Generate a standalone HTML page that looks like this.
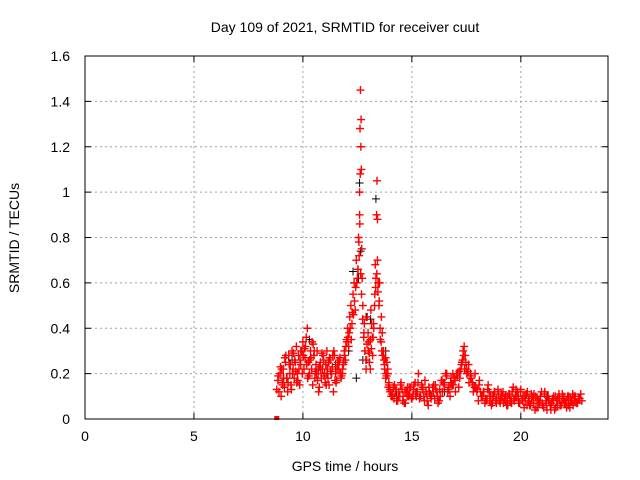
<!DOCTYPE html>
<html><head><meta charset="utf-8"><style>
body{margin:0;background:#fff}
svg{display:block;font-family:"Liberation Sans",sans-serif}
</style></head><body>
<svg width="640" height="480" xmlns="http://www.w3.org/2000/svg">
<rect width="640" height="480" fill="#fff"/>
<text x="345" y="32" font-size="14" text-anchor="middle">Day 109 of 2021, SRMTID for receiver cuut</text>
<text x="345" y="471" font-size="14" text-anchor="middle">GPS time / hours</text>
<text transform="translate(19,238) rotate(-90)" font-size="14" text-anchor="middle">SRMTID / TECUs</text>
<g id="grid"></g>
<g id="axes"></g>
<g id="black"></g>
<g id="red"></g>
<rect x="85" y="56" width="523" height="363" fill="none" stroke="#000" stroke-width="1"/>
</svg>
<script>
const xTicks=[0,5,10,15,20];
const yTicks=[0,0.2,0.4,0.6,0.8,1,1.2,1.4,1.6];
const yTickLabels=["0","0.2","0.4","0.6","0.8","1","1.2","1.4","1.6"];
const redT=[8.8,8.85,8.9,8.95,9.0,9.05,9.1,9.15,9.2,9.25,9.3,9.35,9.4,9.45,9.5,9.55,9.6,9.65,9.7,9.75,9.8,9.85,9.9,9.95,10.0,10.05,10.1,10.15,10.2,10.25,10.3,10.35,10.4,10.45,10.5,10.55,10.6,10.65,10.7,10.75,10.8,10.85,10.9,10.95,11.0,11.05,11.1,11.15,11.2,11.25,11.3,11.35,11.4,11.45,11.5,11.55,11.6,11.65,11.7,11.75,11.8,11.85,11.9,11.95,12.0,12.05,12.1,12.15,12.2,12.25,12.3,12.35,12.4,12.45,12.5,12.55,12.6,12.62,12.64,12.66,12.68,12.7,12.75,12.8,12.85,12.9,12.95,13.0,13.05,13.1,13.15,13.2,13.25,13.3,13.35,13.38,13.4,13.42,13.45,13.5,13.55,13.6,13.65,13.7,13.75,13.8,13.85,13.9,13.95,14.0,14.1,14.2,14.3,14.4,14.5,14.6,14.7,14.8,14.9,15.0,15.1,15.2,15.3,15.4,15.5,15.6,15.7,15.8,15.9,16.0,16.1,16.2,16.3,16.4,16.5,16.6,16.7,16.8,16.9,17.0,17.1,17.2,17.3,17.35,17.4,17.45,17.5,17.6,17.7,17.8,17.9,18.0,18.1,18.2,18.3,18.4,18.5,18.6,18.7,18.8,18.9,19.0,19.1,19.2,19.3,19.4,19.5,19.6,19.7,19.8,19.9,20.0,20.1,20.2,20.3,20.4,20.5,20.6,20.7,20.8,20.9,21.0,21.1,21.2,21.3,21.4,21.5,21.6,21.7,21.8,21.9,22.0,22.1,22.2,22.3,22.4,22.5,22.6,22.7,22.8,
9.02,9.12,9.22,9.32,9.42,9.52,9.62,9.72,9.82,9.92,10.02,10.12,10.22,10.32,10.42,10.52,10.62,10.72,10.82,10.92,11.02,11.12,11.22,11.32,11.42,11.52,11.62,11.72,11.82,11.92,12.02,12.12,12.22,12.32,12.42,12.52,12.58,12.6,12.63,12.67,12.72,12.82,12.92,13.02,13.12,13.22,13.32,13.42,13.52,13.62,13.72,13.82,13.92,14.05,14.15,14.25,14.35,14.45,14.55,14.65,14.75,14.85,14.95,15.05,15.15,15.25,15.35,15.45,15.55,15.65,15.75,15.85,15.95,16.05,16.15,16.25,16.35,16.45,16.55,16.65,16.75,16.85,16.95,17.05,17.15,17.25,17.32,17.42,17.52,17.62,17.72,17.82,17.92,18.05,18.15,18.25,18.35,18.45,18.55,18.65,18.75,18.85,18.95,19.05,19.15,19.25,19.35,19.45,19.55,19.65,19.75,19.85,19.95,20.05,20.15,20.25,20.35,20.45,20.55,20.65,20.75,20.85,20.95,21.05,21.15,21.25,21.35,21.45,21.55,21.65,21.75,21.85,21.95,22.05,22.15,22.25,22.35,22.45,22.55,22.65,22.75,
8.87,8.97,9.07,9.17,9.27,9.37,9.47,9.57,9.67,9.77,9.87,9.97,10.07,10.17,10.27,10.37,10.47,10.57,10.67,10.77,10.87,10.97,11.07,11.17,11.27,11.37,11.47,11.57,11.67,11.77,11.87,11.97,12.07,12.17,12.27,12.37,12.47,12.53,12.57,12.61,12.65,12.69,12.74,12.79,12.84,12.89,12.94,12.99,13.04,13.09,13.14,13.19,13.24,13.29,13.34,13.39,13.44,13.49,13.54,13.59,13.64,13.69,13.74,13.79,13.84,13.89,13.94,13.99,14.08,14.18,14.28,14.38,14.48,14.58,14.68,14.78,14.88,14.98,15.08,15.18,15.28,15.38,15.48,15.58,15.68,15.78,15.88,15.98,16.08,16.18,16.28,16.38,16.48,16.58,16.68,16.78,16.88,16.98,17.08,17.18,17.28,17.38,17.48,17.58,17.68,17.78,17.88,17.98,18.08,18.18,18.28,18.38,18.48,18.58,18.68,18.78,18.88,18.98,19.08,19.18,19.28,19.38,19.48,19.58,19.68,19.78,19.88,19.98,20.08,20.18,20.28,20.38,20.48,20.58,20.68,20.78,20.88,20.98,21.08,21.18,21.28,21.38,21.48,21.58,21.68,21.78,21.88,21.98,22.08,22.18,22.28,22.38,22.48,22.58,22.68,22.78];
const redV=[0.13,0.17,0.12,0.2,0.1,0.16,0.22,0.14,0.25,0.18,0.12,0.28,0.2,0.15,0.3,0.22,0.18,0.25,0.32,0.2,0.28,0.15,0.24,0.3,0.34,0.22,0.27,0.36,0.4,0.25,0.2,0.3,0.22,0.15,0.28,0.18,0.24,0.3,0.2,0.14,0.25,0.18,0.22,0.26,0.2,0.24,0.3,0.18,0.15,0.26,0.2,0.23,0.12,0.28,0.2,0.17,0.25,0.22,0.27,0.18,0.2,0.24,0.3,0.26,0.35,0.4,0.32,0.45,0.5,0.42,0.55,0.6,0.48,0.7,0.62,0.8,0.9,1.28,1.45,1.2,1.1,0.75,0.5,0.38,0.3,0.22,0.45,0.3,0.25,0.35,0.42,0.28,0.4,0.55,0.62,0.9,1.05,0.7,0.6,0.52,0.35,0.45,0.28,0.3,0.22,0.18,0.25,0.2,0.15,0.12,0.1,0.15,0.08,0.12,0.16,0.1,0.07,0.14,0.11,0.09,0.15,0.12,0.2,0.1,0.14,0.17,0.08,0.12,0.1,0.15,0.13,0.07,0.1,0.12,0.16,0.2,0.14,0.18,0.15,0.12,0.2,0.18,0.25,0.3,0.32,0.28,0.22,0.24,0.18,0.15,0.2,0.13,0.17,0.1,0.12,0.08,0.15,0.1,0.07,0.12,0.09,0.08,0.11,0.07,0.1,0.06,0.09,0.12,0.08,0.1,0.07,0.13,0.1,0.08,0.12,0.06,0.09,0.11,0.05,0.08,0.1,0.06,0.12,0.04,0.08,0.07,0.1,0.05,0.09,0.06,0.11,0.07,0.05,0.1,0.08,0.06,0.1,0.07,0.09,0.08,
0.22,0.18,0.28,0.16,0.24,0.2,0.26,0.16,0.22,0.3,0.28,0.32,0.18,0.26,0.34,0.3,0.2,0.12,0.22,0.28,0.16,0.22,0.27,0.2,0.3,0.16,0.24,0.2,0.22,0.28,0.34,0.38,0.35,0.46,0.58,0.66,0.72,1.0,1.08,1.32,0.62,0.42,0.26,0.34,0.48,0.36,0.68,0.88,0.6,0.3,0.26,0.2,0.14,0.1,0.14,0.12,0.08,0.1,0.13,0.07,0.12,0.1,0.14,0.1,0.16,0.12,0.09,0.15,0.1,0.12,0.06,0.11,0.14,0.09,0.12,0.08,0.17,0.16,0.2,0.12,0.1,0.15,0.18,0.2,0.14,0.22,0.26,0.22,0.2,0.16,0.18,0.12,0.14,0.08,0.12,0.1,0.07,0.09,0.12,0.06,0.1,0.08,0.13,0.07,0.1,0.09,0.06,0.11,0.08,0.14,0.1,0.12,0.07,0.09,0.05,0.11,0.08,0.06,0.1,0.04,0.09,0.07,0.12,0.05,0.08,0.1,0.06,0.09,0.04,0.08,0.11,0.06,0.09,0.07,0.1,0.05,0.08,0.1,0.07,0.09,0.11,
0.19,0.23,0.15,0.27,0.18,0.24,0.13,0.29,0.21,0.17,0.26,0.2,0.31,0.24,0.19,0.27,0.33,0.21,0.17,0.23,0.29,0.19,0.15,0.25,0.21,0.28,0.17,0.22,0.26,0.19,0.25,0.32,0.36,0.4,0.47,0.52,0.6,0.66,0.78,0.86,0.64,0.55,0.44,0.36,0.3,0.26,0.33,0.38,0.29,0.22,0.31,0.36,0.42,0.5,0.58,0.64,0.56,0.5,0.4,0.34,0.38,0.3,0.24,0.27,0.19,0.22,0.16,0.13,0.11,0.09,0.13,0.1,0.15,0.08,0.12,0.1,0.14,0.09,0.13,0.11,0.16,0.1,0.13,0.08,0.11,0.14,0.09,0.12,0.15,0.1,0.13,0.17,0.15,0.19,0.13,0.16,0.2,0.17,0.19,0.21,0.24,0.28,0.25,0.21,0.19,0.16,0.14,0.12,0.15,0.1,0.12,0.09,0.13,0.08,0.1,0.12,0.07,0.11,0.09,0.12,0.08,0.1,0.11,0.07,0.09,0.13,0.1,0.12,0.08,0.1,0.06,0.09,0.11,0.07,0.1,0.05,0.08,0.07,0.11,0.06,0.09,0.04,0.08,0.1,0.06,0.09,0.07,0.1,0.08,0.06,0.09,0.11,0.08,0.07];
const blackT=[9.1,9.5,9.9,10.3,10.7,11.1,11.5,12.1,12.3,12.45,12.55,12.6,12.65,12.75,12.9,13.1,13.35,13.5,13.8,14.3,15.2,16.5,17.3,17.7,19.5,21.2,22.2];
const blackV=[0.18,0.26,0.3,0.35,0.22,0.2,0.24,0.3,0.65,0.18,0.62,1.04,0.74,0.26,0.45,0.44,0.97,0.6,0.3,0.1,0.1,0.12,0.25,0.2,0.08,0.1,0.07];
const X0=85,X1=608,Y0=419,Y1=56,XMAX=24,YMAX=1.6;
const sx=v=>X0+(X1-X0)*v/XMAX, sy=v=>Y0-(Y0-Y1)*v/YMAX;
const NS="http://www.w3.org/2000/svg";
function mk(tag,attrs,parent){const e=document.createElementNS(NS,tag);for(const k in attrs)e.setAttribute(k,attrs[k]);parent.appendChild(e);return e;}
const grid=document.getElementById('grid'),axes=document.getElementById('axes');
xTicks.forEach(t=>{const x=sx(t);
 if(t>0){const l=mk('line',{x1:x,y1:Y1,x2:x,y2:Y0,stroke:'#a0a0a0','stroke-dasharray':'2,3'},grid);}
 mk('line',{x1:x,y1:Y0,x2:x,y2:Y0-6,stroke:'#000'},axes);mk('line',{x1:x,y1:Y1,x2:x,y2:Y1+6,stroke:'#000'},axes);
 const tx=mk('text',{x:x,y:Y0+22,'font-size':14,'text-anchor':'middle'},axes);tx.textContent=t;
 });
yTicks.forEach((t,i)=>{const y=sy(t);
 if(t>0&&t<YMAX){const l=mk('line',{x1:X0,y1:y,x2:X1,y2:y,stroke:'#a0a0a0','stroke-dasharray':'2,3'},grid);}
 mk('line',{x1:X0,y1:y,x2:X0+6,y2:y,stroke:'#000'},axes);mk('line',{x1:X1,y1:y,x2:X1-6,y2:y,stroke:'#000'},axes);
 const tx=mk('text',{x:X0-15,y:y+5,'font-size':14,'text-anchor':'end'},axes);tx.textContent=yTickLabels[i];
 });
function plus(g,T,V,col,name,w){let d='';const n=Math.min(T.length,V.length);for(let i=0;i<n;i++){const x=sx(T[i]),y=sy(V[i]);d+=`M${x-4},${y}h8M${x},${y-4}v8`;}
 const p=mk('path',{d:d,stroke:col,'stroke-width':w,fill:'none'},g);}
plus(document.getElementById('black'),blackT,blackV,'#000','black-points',1);
plus(document.getElementById('red'),redT,redV,'#ff0000','red-points',1.4);
const m=mk('rect',{x:sx(8.8)-2.5,y:Y0-3,width:5,height:4,fill:'#ff0000'},document.getElementById('red'));

</script>
</body></html>
